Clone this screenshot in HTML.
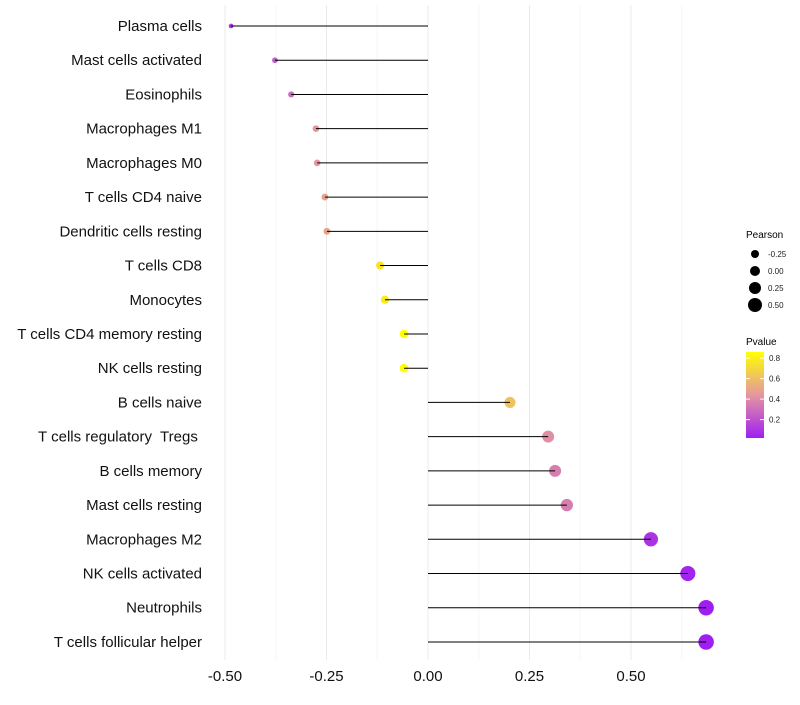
<!DOCTYPE html>
<html><head><meta charset="utf-8"><style>
body{margin:0;background:#fff;font-family:"Liberation Sans",sans-serif}
text{white-space:pre}
</style></head><body>
<svg id="c" width="800" height="700">
<defs><linearGradient id="pg" x1="0" y1="1" x2="0" y2="0">
<stop offset="0" stop-color="#9f1ff2"/><stop offset="0.5" stop-color="#e596a0"/><stop offset="1" stop-color="#ffff00"/></linearGradient></defs>
</svg>
<script>
const cells=["Plasma cells","Mast cells activated","Eosinophils","Macrophages M1","Macrophages M0","T cells CD4 naive","Dendritic cells resting","T cells CD8","Monocytes","T cells CD4 memory resting","NK cells resting","B cells naive","T cells regulatory  Tregs ","B cells memory","Mast cells resting","Macrophages M2","NK cells activated","Neutrophils","T cells follicular helper"];
const pearson=[-0.485,-0.377,-0.337,-0.276,-0.273,-0.254,-0.249,-0.118,-0.106,-0.059,-0.059,0.202,0.296,0.313,0.342,0.549,0.640,0.685,0.685];
const pvalue=[0.1,0.25,0.3,0.45,0.45,0.5,0.5,0.75,0.78,0.86,0.86,0.62,0.42,0.36,0.36,0.1,0.05,0.02,0.03];
const xTicks=[-0.5,-0.25,0,0.25,0.5];
const xTickLabels=["-0.50","-0.25","0.00","0.25","0.50"];
const sizeLegend=[-0.25,0,0.25,0.5];
const pTicks=[0.2,0.4,0.6,0.8];
const svg=document.getElementById('c');const NS='http://www.w3.org/2000/svg';
function mk(t,a,p){const e=document.createElementNS(NS,t);for(const k in a)e.setAttribute(k,a[k]);(p||svg).appendChild(e);return e;}
const X=v=>428+v*406;
const Y=i=>26+i*34.22;
const R=v=>Math.max(1.8,4.6+4.6*v);
function lerp(a,b,t){return a.map((v,i)=>Math.round(v+(b[i]-v)*t));}
function col(p){const t=Math.min(1,Math.max(0,(p-0.03)/0.83));const A=[159,31,242],B=[229,150,160],C=[255,255,0];const c=t<0.5?lerp(A,B,t*2):lerp(B,C,(t-0.5)*2);return `rgb(${c})`;}
for(let v=-0.5;v<=0.7;v+=0.125){const g=mk('line',{x1:X(v),x2:X(v),y1:5,y2:660,stroke:Math.abs(v*4-Math.round(v*4))<1e-6?'#ebebeb':'#f6f6f6','stroke-width':1});

}
xTicks.forEach((v,i)=>{const t=mk('text',{x:X(v),y:681,'text-anchor':'middle','font-size':15,fill:'#111'});t.textContent=xTickLabels[i];

});
cells.forEach((c,i)=>{const t=mk('text',{x:202,y:Y(i)+5,'text-anchor':'end','font-size':15,fill:'#111'});t.textContent=c;


const pt=mk('circle',{cx:X(pearson[i]),cy:Y(i),r:R(pearson[i]),fill:col(pvalue[i])});


const l=mk('line',{x1:X(0),x2:X(pearson[i]),y1:Y(i),y2:Y(i),stroke:'#000','stroke-width':1});

});
const lg=mk('g',{});
let t=mk('text',{x:746,y:238,'font-size':10,fill:'#000'},lg);t.textContent='Pearson';
sizeLegend.forEach((v,i)=>{mk('circle',{cx:755,cy:254+i*17,r:4+i,fill:'#000'},lg);const s=mk('text',{x:768,y:257+i*17,'font-size':8,fill:'#222'},lg);s.textContent=v.toFixed(2);});
const cg=mk('g',{});
t=mk('text',{x:746,y:345,'font-size':10,fill:'#000'},cg);t.textContent='Pvalue';
mk('rect',{x:746,y:352,width:18,height:86,fill:'url(#pg)'},cg);
pTicks.forEach(p=>{const y=437-(p-0.03)/0.83*85;mk('line',{x1:746,x2:750,y1:y,y2:y,stroke:'#fff'},cg);mk('line',{x1:760,x2:764,y1:y,y2:y,stroke:'#fff'},cg);const s=mk('text',{x:769,y:y+3,'font-size':8,fill:'#222'},cg);s.textContent=p.toFixed(1);});
</script>
</body></html>
